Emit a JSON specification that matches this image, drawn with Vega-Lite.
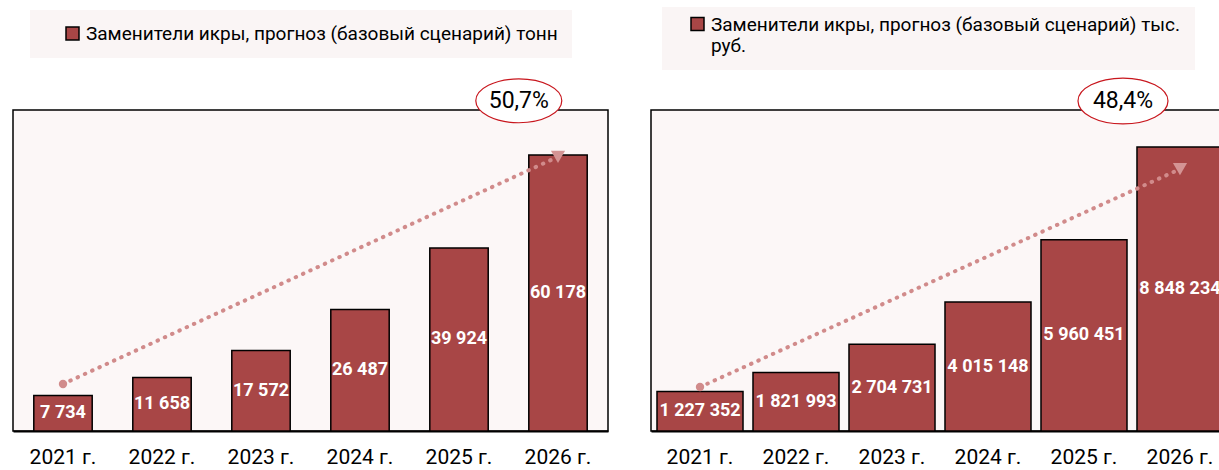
{
  "$schema": "https://vega.github.io/schema/vega-lite/v6.json",
  "padding": {"left": 12, "top": 6, "right": 0, "bottom": 0},
  "background": "white",
  "spacing": 41,
  "config": {
    "font": "Roboto",
    "view": {"stroke": "black", "strokeWidth": 1.5, "fill": "#fcf7f7"},
    "locale": {"number": {"decimal": ",", "thousands": " ", "grouping": [3], "currency": ["", ""]}},
    "axisX": {"title": null, "labelFont": "Roboto", "labelFontSize": 21, "labelColor": "black", "ticks": false, "domainColor": "black", "domainWidth": 2, "labelPadding": 15, "labelAngle": 0},
    "legend": {"title": null, "orient": "none", "fillColor": "#faf5f5", "padding": 14, "symbolStrokeColor": "black", "symbolStrokeWidth": 1.5, "labelFont": "Roboto", "labelFontSize": 19, "labelColor": "black", "labelLimit": 1000, "symbolOpacity": 1}
  },
  "resolve": {"scale": {"x": "independent", "y": "independent", "color": "independent"}, "legend": {"color": "independent"}},
  "hconcat": [
    {
      "width": 595,
      "height": 321,
      "resolve": {"scale": {"y": "independent"}},
      "layer": [
        {
          "data": {"values": [
            {"year": "2021 г.", "value": 7734, "series": "Заменители икры, прогноз (базовый сценарий) тонн"},
            {"year": "2022 г.", "value": 11658, "series": "Заменители икры, прогноз (базовый сценарий) тонн"},
            {"year": "2023 г.", "value": 17572, "series": "Заменители икры, прогноз (базовый сценарий) тонн"},
            {"year": "2024 г.", "value": 26487, "series": "Заменители икры, прогноз (базовый сценарий) тонн"},
            {"year": "2025 г.", "value": 39924, "series": "Заменители икры, прогноз (базовый сценарий) тонн"},
            {"year": "2026 г.", "value": 60178, "series": "Заменители икры, прогноз (базовый сценарий) тонн"}
          ]},
          "layer": [
            {
              "mark": {"type": "bar", "stroke": "black", "strokeWidth": 1.5},
              "encoding": {
                "x": {"field": "year", "type": "ordinal", "scale": {"paddingInner": 0.41, "paddingOuter": 0.21}},
                "y": {"field": "value", "type": "quantitative", "scale": {"domain": [0, 70000]}, "axis": null},
                "color": {"field": "series", "type": "nominal", "scale": {"range": ["#a84646"]},
                  "legend": {"legendX": 17, "legendY": -100, "symbolType": "square", "symbolSize": 169, "symbolOffset": 19}}
              }
            }
          ]
        },
        {
          "data": {"values": [
            {"year": "2021 г.", "value": 7734},
            {"year": "2022 г.", "value": 11658},
            {"year": "2023 г.", "value": 17572},
            {"year": "2024 г.", "value": 26487},
            {"year": "2025 г.", "value": 39924},
            {"year": "2026 г.", "value": 60178}
          ]},
          "mark": {"type": "text", "color": "white", "fontWeight": "bold", "fontSize": 18, "baseline": "middle", "font": "Roboto"},
          "encoding": {
            "x": {"field": "year", "type": "ordinal"},
            "y": {"field": "value", "type": "quantitative", "scale": {"domain": [0, 140000]}, "axis": null},
            "text": {"field": "value", "type": "quantitative", "format": ","}
          }
        },
        {
          "data": {"values": [
            {"year": "2021 г.", "trend": 10250},
            {"year": "2026 г.", "trend": 59800}
          ]},
          "layer": [
            {
              "mark": {"type": "line", "color": "#d18b8b", "strokeWidth": 4, "strokeDash": [0.5, 7.5], "strokeCap": "round"},
              "encoding": {
                "x": {"field": "year", "type": "ordinal"},
                "y": {"field": "trend", "type": "quantitative", "scale": {"domain": [0, 70000]}, "axis": null}
              }
            },
            {
              "transform": [{"filter": "datum.year == '2021 г.'"}],
              "mark": {"type": "point", "shape": "circle", "filled": true, "color": "#d18b8b", "size": 70, "opacity": 1},
              "encoding": {
                "x": {"field": "year", "type": "ordinal"},
                "y": {"field": "trend", "type": "quantitative", "scale": {"domain": [0, 70000]}, "axis": null}
              }
            },
            {
              "transform": [{"filter": "datum.year == '2026 г.'"}],
              "mark": {"type": "point", "shape": "triangle-down", "filled": true, "color": "#d49494", "size": 200, "opacity": 1},
              "encoding": {
                "x": {"field": "year", "type": "ordinal"},
                "y": {"field": "trend", "type": "quantitative", "scale": {"domain": [0, 70000]}, "axis": null}
              }
            }
          ]
        },
        {
          "data": {"values": [{"year": "2026 г.", "growth": "50,7%"}]},
          "layer": [
            {
              "mark": {"type": "point", "shape": "M-1,0C-1,-0.2817 -0.5523,-0.51 0,-0.51C0.5523,-0.51 1,-0.2817 1,0C1,0.2817 0.5523,0.51 0,0.51C-0.5523,0.51 -1,0.2817 -1,0Z", "filled": true, "fill": "white", "stroke": "#c8161d", "strokeWidth": 1.2, "size": 7396, "opacity": 1},
              "encoding": {
                "x": {"field": "year", "type": "ordinal"},
                "xOffset": {"value": -10},
                "y": {"datum": 72000, "type": "quantitative", "scale": {"domain": [0, 70000]}, "axis": null}
              }
            },
            {
              "mark": {"type": "text", "fontSize": 23, "color": "black", "baseline": "middle", "font": "Roboto"},
              "encoding": {
                "x": {"field": "year", "type": "ordinal"},
                "xOffset": {"value": -10},
                "y": {"datum": 72000, "type": "quantitative", "scale": {"domain": [0, 70000]}, "axis": null},
                "text": {"field": "growth"}
              }
            }
          ]
        }
      ]
    },
    {
      "width": 578,
      "height": 321,
      "resolve": {"scale": {"y": "independent"}},
      "layer": [
        {
          "data": {"values": [
            {"year": "2021 г.", "value": 1227352, "series": "Заменители икры, прогноз (базовый сценарий) тыс. руб."},
            {"year": "2022 г.", "value": 1821993, "series": "Заменители икры, прогноз (базовый сценарий) тыс. руб."},
            {"year": "2023 г.", "value": 2704731, "series": "Заменители икры, прогноз (базовый сценарий) тыс. руб."},
            {"year": "2024 г.", "value": 4015148, "series": "Заменители икры, прогноз (базовый сценарий) тыс. руб."},
            {"year": "2025 г.", "value": 5960451, "series": "Заменители икры, прогноз (базовый сценарий) тыс. руб."},
            {"year": "2026 г.", "value": 8848234, "series": "Заменители икры, прогноз (базовый сценарий) тыс. руб."}
          ]},
          "layer": [
            {
              "mark": {"type": "bar", "stroke": "black", "strokeWidth": 1.5},
              "encoding": {
                "x": {"field": "year", "type": "ordinal", "scale": {"paddingInner": 0.104, "paddingOuter": 0.0625}},
                "y": {"field": "value", "type": "quantitative", "scale": {"domain": [0, 10000000]}, "axis": null},
                "color": {"field": "series", "type": "nominal", "scale": {"range": ["#a84646"]},
                  "legend": {"legendX": 11, "legendY": -103, "symbolType": "M-1,-2L1,-2L1,0L-1,0Z", "symbolSize": 169, "symbolOffset": 12, "labelBaseline": "alphabetic",
                    "labelExpr": "['Заменители икры, прогноз (базовый сценарий) тыс.', 'руб.']"}}
              }
            }
          ]
        },
        {
          "data": {"values": [
            {"year": "2021 г.", "value": 1227352},
            {"year": "2022 г.", "value": 1821993},
            {"year": "2023 г.", "value": 2704731},
            {"year": "2024 г.", "value": 4015148},
            {"year": "2025 г.", "value": 5960451},
            {"year": "2026 г.", "value": 8848234}
          ]},
          "mark": {"type": "text", "color": "white", "fontWeight": "bold", "fontSize": 18, "baseline": "middle", "font": "Roboto"},
          "encoding": {
            "x": {"field": "year", "type": "ordinal"},
            "y": {"field": "value", "type": "quantitative", "scale": {"domain": [0, 20000000]}, "axis": null},
            "text": {"field": "value", "type": "quantitative", "format": ","}
          }
        },
        {
          "data": {"values": [
            {"year": "2021 г.", "trend": 1370000},
            {"year": "2026 г.", "trend": 8160000}
          ]},
          "layer": [
            {
              "mark": {"type": "line", "color": "#d18b8b", "strokeWidth": 4, "strokeDash": [0.5, 7.5], "strokeCap": "round"},
              "encoding": {
                "x": {"field": "year", "type": "ordinal"},
                "y": {"field": "trend", "type": "quantitative", "scale": {"domain": [0, 10000000]}, "axis": null}
              }
            },
            {
              "transform": [{"filter": "datum.year == '2021 г.'"}],
              "mark": {"type": "point", "shape": "circle", "filled": true, "color": "#d18b8b", "size": 70, "opacity": 1},
              "encoding": {
                "x": {"field": "year", "type": "ordinal"},
                "y": {"field": "trend", "type": "quantitative", "scale": {"domain": [0, 10000000]}, "axis": null}
              }
            },
            {
              "transform": [{"filter": "datum.year == '2026 г.'"}],
              "mark": {"type": "point", "shape": "triangle-down", "filled": true, "color": "#d49494", "size": 200, "opacity": 1},
              "encoding": {
                "x": {"field": "year", "type": "ordinal"},
                "y": {"field": "trend", "type": "quantitative", "scale": {"domain": [0, 10000000]}, "axis": null}
              }
            }
          ]
        },
        {
          "data": {"values": [{"year": "2026 г.", "growth": "48,4%"}]},
          "layer": [
            {
              "mark": {"type": "point", "shape": "M-1,0C-1,-0.2817 -0.5523,-0.51 0,-0.51C0.5523,-0.51 1,-0.2817 1,0C1,0.2817 0.5523,0.51 0,0.51C-0.5523,0.51 -1,0.2817 -1,0Z", "filled": true, "fill": "white", "stroke": "#c8161d", "strokeWidth": 1.2, "size": 8100, "opacity": 1},
              "encoding": {
                "x": {"field": "year", "type": "ordinal"},
                "xOffset": {"value": -14},
                "y": {"datum": 10280000, "type": "quantitative", "scale": {"domain": [0, 10000000]}, "axis": null}
              }
            },
            {
              "mark": {"type": "text", "fontSize": 23, "color": "black", "baseline": "middle", "font": "Roboto"},
              "encoding": {
                "x": {"field": "year", "type": "ordinal"},
                "xOffset": {"value": -14},
                "y": {"datum": 10280000, "type": "quantitative", "scale": {"domain": [0, 10000000]}, "axis": null},
                "text": {"field": "growth"}
              }
            }
          ]
        }
      ]
    }
  ]
}
